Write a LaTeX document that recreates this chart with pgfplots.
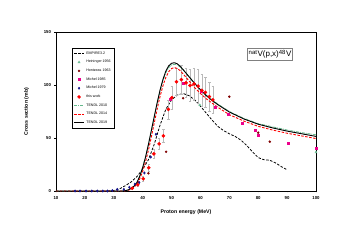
\documentclass[border=0pt]{standalone}
\usepackage{pgfplots}
\pgfplotsset{compat=1.18}
\usepackage{fontspec}
\setmainfont{Liberation Sans}
\definecolor{tgreen}{RGB}{100,185,140}
\definecolor{hgreen}{RGB}{110,190,150}
\definecolor{dred}{RGB}{128,0,0}
\definecolor{mblue}{RGB}{20,20,140}
\begin{document}
\begin{tikzpicture}
\begin{axis}[
  at={(0,0)}, anchor=south west,
  scale only axis, width=260pt, height=159pt,
  xmin=10, xmax=100, ymin=0, ymax=150,
  xtick={10,20,...,100}, ytick={0,50,100,150},
  tick pos=left, tick align=outside, major tick length=1.5pt,
  axis line style={line width=0.7pt},
  every tick/.style={line width=0.5pt,black},
  /pgf/number format/assume math mode=true,
  ticklabel style={font=\bfseries\fontsize{4.3}{5}\selectfont},
  xlabel={Proton energy (MeV)}, ylabel={Cross section (mb)},
  xlabel style={font=\bfseries\fontsize{5.2}{6}\selectfont, yshift=-4pt},
  ylabel style={font=\bfseries\fontsize{5.2}{6}\selectfont, yshift=8pt},
  legend cell align=left,
  legend style={at={(0.062,0.9)}, anchor=north west, draw=black, line width=0.3pt,
    font=\fontsize{3.6}{4.2}\selectfont, inner sep=1.5pt, row sep=0.6pt,
    /tikz/every even column/.append style={column sep=1pt}},
  legend image code/.code={\draw[mark repeat=2,mark phase=2,#1] plot coordinates {(0cm,0cm) (0.17cm,0cm) (0.34cm,0cm)};},
  clip=false,
]
% EMPIRE 3.2
\addplot[black, line width=0.8pt, dash pattern=on 2.5pt off 1.5pt] coordinates {
(28,0) (30,0.5) (32,2) (34,5) (36,8.5) (38,13.5) (40,20.5) (42,29.5) (44,44) (46,62) (48,77) (50,86) (52,90.5) (54,92) (56,90) (58,86) (60,80) (62,73.5) (64,67) (66,61) (68,57) (70,54) (72,51.5) (74,48) (76,43) (78,37) (80,31.5) (82,29.5) (84,29) (86,26.5) (88,23) (90,20)};
\addlegendentry{EMPIRE3.2}
% Heininger
\addplot[only marks, mark=triangle*, mark size=1.3pt, color=hgreen] coordinates {(59.8,81) (100,36.5)};
\addlegendentry{Heininger 1956}
% Hontzeas
\addplot[only marks, mark=*, mark size=1.0pt, color=dred] coordinates {(42,16.7) (48.1,37) (54,87.5) (70,89) (80,55) (84,46.5)};
\addlegendentry{Hontzeas 1963}
% Michel 1985
\addplot[only marks, mark=square*, mark size=1.0pt, color=magenta] coordinates {(49.6,86.5) (54,101.6) (60.3,93.7) (65,78.6) (69.6,72.6) (74.5,63.8) (79,57.5) (80,53) (90.4,45) (100.2,40.3)};
\addlegendentry{Michel 1985}
% Michel 1979
\addplot[only marks, mark=diamond*, mark size=1.2pt, color=mblue] coordinates {(16.6,0) (18.3,0) (20.4,0) (22.4,0) (24.3,0) (26.2,0) (27.8,0) (29.5,0.4) (31.2,1.5) (33.5,1.5) (35.4,3.5) (37.3,6.5) (38.8,8) (40.6,17) (42.8,32) (44.6,53.5)};
\addlegendentry{Michel 1979}
% this work
\addplot[only marks, mark=*, mark size=1.6pt, color=red,
  error bars/.cd, y dir=both, y explicit,
  error bar style={gray!55, line width=0.5pt},
  error mark options={rotate=90, mark size=1.2pt, gray!55, line width=0.5pt}]
 coordinates {
(36.4,2.5) +- (0,1) (38.3,6) +- (0,1.5) (40.2,11.5) +- (0,2) (42.1,22) +- (0,3) (43.9,35) +- (0,4) (45.7,44.5) +- (0,5) (47.2,52) +- (0,6) (48.9,77) +- (0,9) (50.1,88) +- (0,11) (51.7,103) +- (0,13) (53.4,105) +- (0,14) (55,102) +- (0,14) (56.4,99.5) +- (0,15) (57.8,101) +- (0,15) (59.2,99) +- (0,16) (60.5,95) +- (0,15) (61.7,93) +- (0,14) (63.1,89) +- (0,14) (64.3,86) +- (0,13)};
\addlegendentry{this work}
% TENDL 2010
\addplot[tgreen, line width=0.9pt, dash pattern=on 3pt off 1pt on 0.8pt off 1pt] coordinates {
(10,0) (33,0) (34,0.3) (35,1) (36,2.5) (37,4.5) (38,8) (39,14) (40,22) (41,32) (42,44) (43,57) (44,70) (45,82.5) (46,94) (47,104) (48,111.5) (49,116.5) (50,119) (51,119.5) (52,119) (53,117) (54,114.5) (56,108) (58,101.5) (60,95.5) (62,90.5) (64,86) (66,82) (68,78.5) (70,75) (75,68.5) (80,63.5) (85,60.5) (90,57.5) (95,55) (100,53)};
\addlegendentry{TENDL 2010}
% TENDL 2014
\addplot[red, line width=0.9pt, dash pattern=on 2.5pt off 1.5pt] coordinates {
(10,0) (33.5,0) (35,0.7) (36,1.8) (37,3.5) (38,6.5) (39,11.5) (40,18.5) (41,27.5) (42,38.5) (43,51) (44,64) (45,77) (46,89) (47,99) (48,107) (49,112.5) (50,115.5) (51,116.5) (52,115.5) (53,113.5) (54,110.5) (56,104) (58,97.5) (60,92) (62,87) (64,83) (66,79) (68,75.5) (70,72) (75,66) (80,61) (85,57.5) (90,54.5) (95,52) (100,49.5)};
\addlegendentry{TENDL 2014}
% TENDL 2019
\addplot[black, line width=0.9pt] coordinates {
(10,0) (33,0) (34,0.3) (35,1) (36,2.5) (37,4.5) (38,8) (39,14) (40,22) (41,32) (42,44) (43,57) (44,70) (45,83) (46,95) (47,105) (48,113) (49,118) (50,120.5) (51,121) (52,120) (53,117.5) (54,114.5) (56,108) (58,101.5) (60,95.5) (62,90) (64,85.5) (66,81.5) (68,78) (70,74.5) (75,68) (80,63) (85,59.5) (90,56.5) (95,54) (100,51.5)};
\addlegendentry{TENDL 2019}
\node[draw=gray, line width=0.5pt, fill=white, inner sep=1.2pt, font=\fontsize{8}{9}\selectfont] at (axis cs:84.1,129) {\textsuperscript{nat}V(p,x)\textsuperscript{48}V};
\end{axis}
\path[use as bounding box] (-56pt,-57pt) rectangle (295pt,191pt);
\end{tikzpicture}
\end{document}
